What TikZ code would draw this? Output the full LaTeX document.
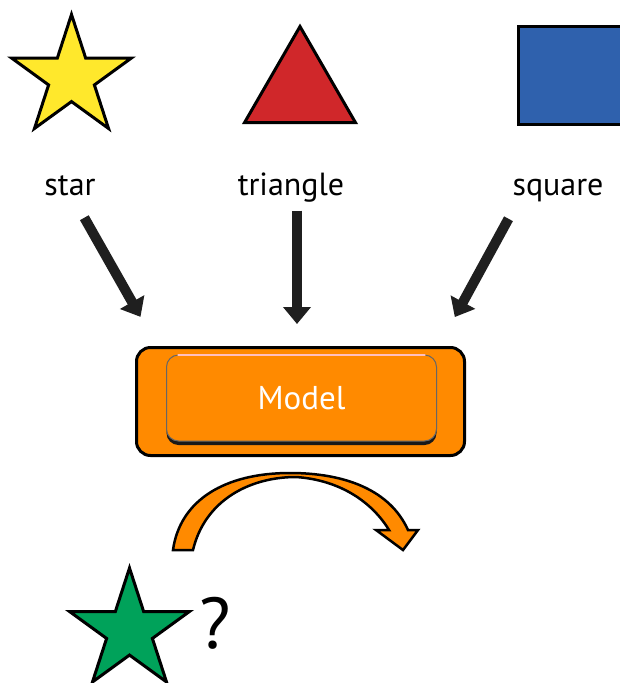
\documentclass[tikz,border=0pt]{standalone}
\usepackage{fontspec}
\setmainfont{PT Sans}
\usepackage{tikz}
\usetikzlibrary{arrows.meta,calc,positioning,shadows,shapes.geometric}
\definecolor{amarelo}{HTML}{FFE82C}
\definecolor{vermelho}{HTML}{D0272A}
\definecolor{azul}{HTML}{2F61AD}
\definecolor{verde}{HTML}{00A25A}
\definecolor{laranja}{HTML}{FF8A00}

\begin{document}
\begin{tikzpicture}[
  x=1pt,y=-1pt,
  forma/.style={draw=black,line width=3pt,inner sep=0pt},
  estrela/.style={forma,star,star points=5,star point ratio=2.618,minimum size=126pt},
  rotulo/.style={font=\fontsize{32}{38}\selectfont,inner sep=0pt,
                 text height=0.75em,text depth=0.25em,anchor=base},
  seta/.style={-{Triangle[width=27pt,length=17pt]},line width=10pt,black!88}
]
  \useasboundingbox (0,0) rectangle (620,683);
  % as tres formas de treino
  \node[estrela,fill=amarelo] (estrelaA) at (71.5,77.5) {};
  \node[forma,regular polygon,regular polygon sides=3,minimum size=128pt,fill=vermelho] (triangulo) at (300,90.5) {};
  \node[forma,rectangle,minimum width=108pt,minimum height=98pt,fill=azul] (quadrado) at (572.5,75) {};
  \node[rotulo] (lblstar) at (70,195) {star};
  \node[rotulo] (lbltri) at (291,195) {triangle};
  \node[rotulo] (lblsq) at (558,195) {square};

  % o modelo
  \node[forma,rounded corners=14pt,fill=laranja,minimum width=328pt,minimum height=108pt] (caixa) at (300.5,401.5) {};
  \node[rounded corners=12pt,fill=laranja,draw=black!60,line width=1pt,
        minimum width=270pt,minimum height=86pt,text=white,font=\fontsize{33}{38}\selectfont,
        drop shadow={shadow xshift=0pt,shadow yshift=-4pt,fill=black!90,opacity=1}] (model) at (301.5,398) {Model};
  \draw[line width=1.2pt,draw=red!25!white,line cap=round]
    ([xshift=12pt,yshift=-0.5pt]model.north west) -- ([xshift=-12pt,yshift=-0.5pt]model.north east);

  \draw[seta,shorten <=23pt,shorten >=33.5pt] ([xshift=3pt]lblstar.south) -- ([xshift=22pt]caixa.north west);
  \draw[seta,shorten <=13pt,shorten >=22pt] ($(lbltri.south)+(6,0)$) -- ($(lbltri.south |- caixa.north)+(6,0)$);
  \draw[seta,shorten <=24pt,shorten >=33pt] ([xshift=-38pt]lblsq.south) -- ([xshift=-27pt]caixa.north east);

  % seta curva
  \draw[line width=2.5pt,fill=laranja,line join=miter]
    (173,550) .. controls (180,500) and (225,473) .. (290,473)
    .. controls (345,473) and (390,490) .. (408,530) -- (418,530) -- (403,550) -- (376,530) -- (389,530)
    .. controls (372,502) and (340,480) .. (296,477)
    .. controls (250,477) and (205,500) .. (193,550) -- cycle;

  % nova forma
  \node[estrela,fill=verde] (estrelaB) at (129.5,631) {};
  \node[font=\fontsize{72}{80}\selectfont,inner sep=0pt] (duvida) at (215,623) {?};
\end{tikzpicture}
\end{document}
